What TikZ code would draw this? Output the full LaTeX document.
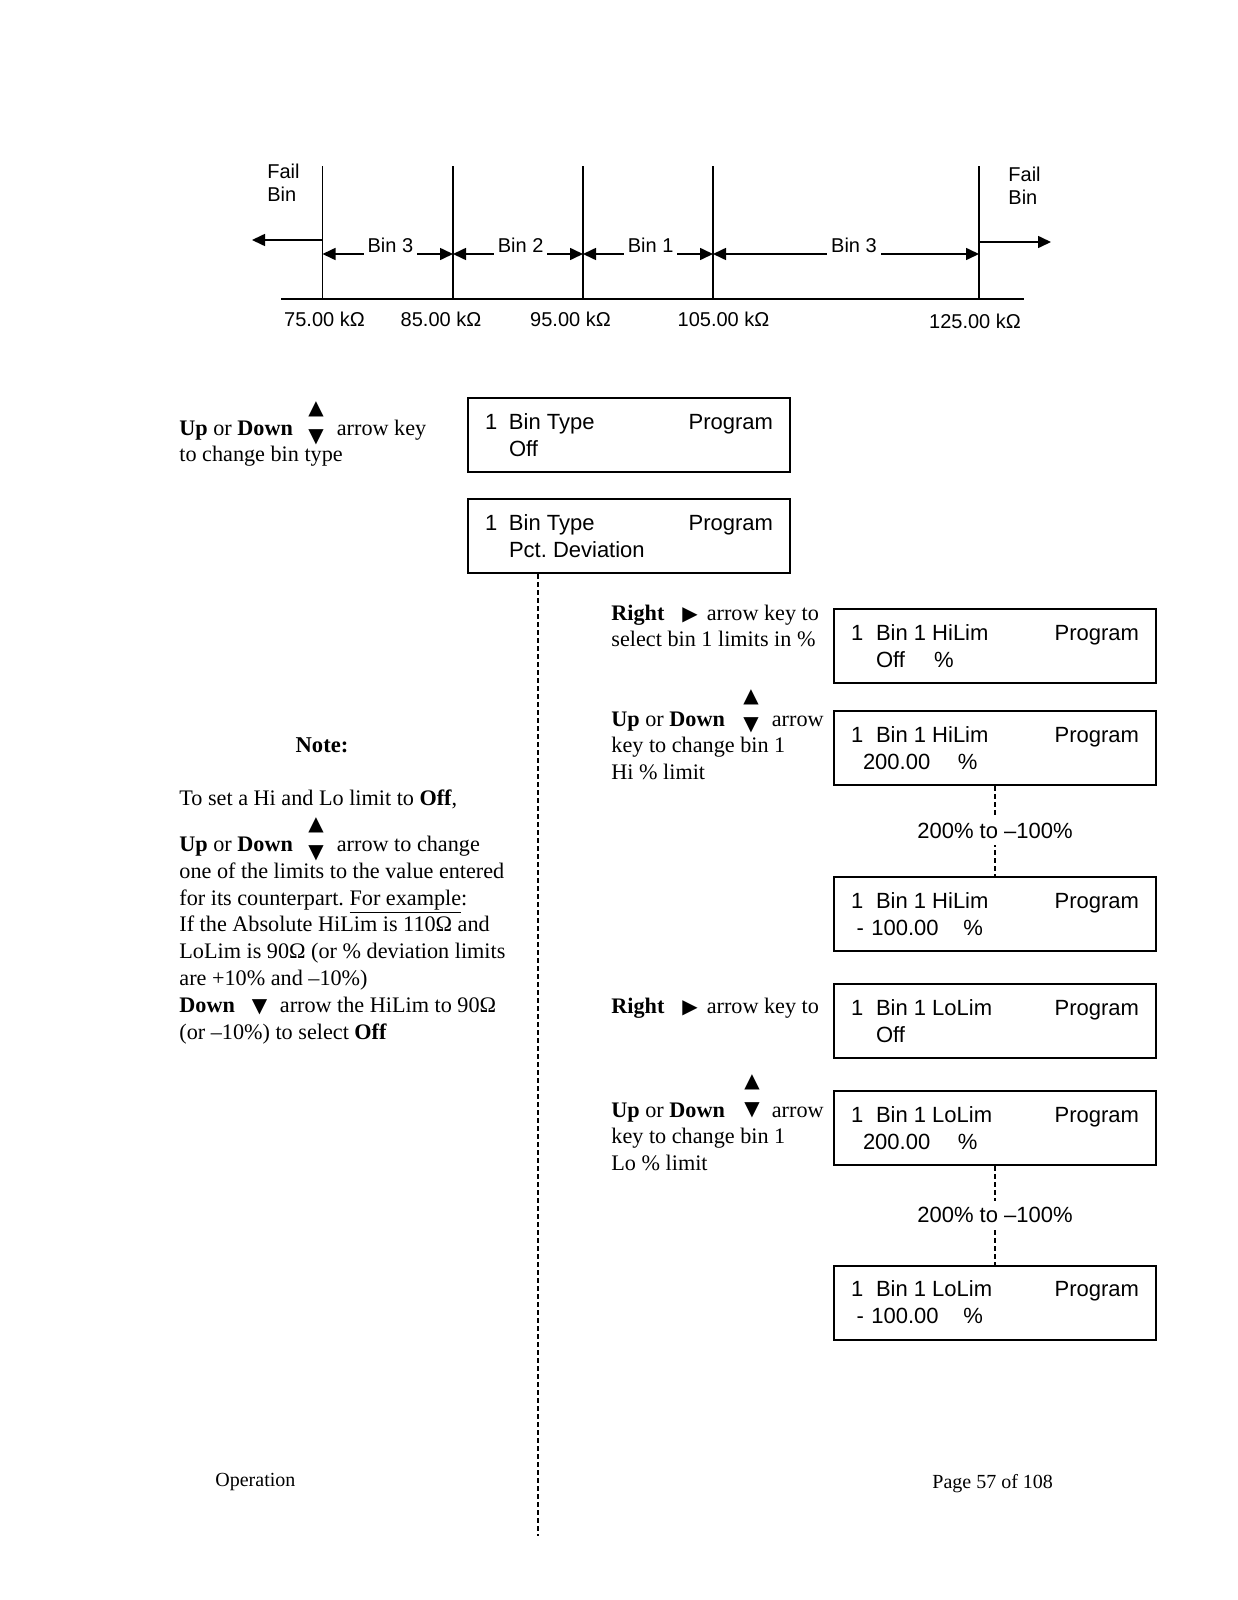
\documentclass[tikz,border=0pt]{standalone}
\usepackage{fontspec}
\setmainfont{Liberation Serif}
\newfontfamily\arial{Liberation Sans}
\newfontfamily\glyphs{DejaVu Sans}
\newcommand{\keysym}[1]{{\glyphs\fontsize{10}{10}\selectfont#1}}
\usetikzlibrary{positioning,arrows.meta}

\begin{document}
\frenchspacing
\begin{tikzpicture}[x=0.5pt,y=-0.5pt,>={Triangle[length=6.5pt,width=6pt]},
  binline/.style={line width=0.8pt},
  binarrow/.style={<->,line width=0.8pt},
  binlbl/.style={pos=#1,anchor=base,yshift=1pt,fill=white,inner sep=2pt,
    font=\arial\fontsize{10}{11.3}\selectfont},
  binlbl/.default=0.5,
  lbl/.style={inner sep=0pt,font=\arial\fontsize{10}{11.3}\selectfont},
  lcd/.style={draw,line width=1pt,text width=144pt,inner xsep=8.5pt,
    minimum height=37pt,align=flush left,font=\arial\fontsize{11}{13.4}\selectfont},
  txt/.style={inner sep=0pt,align=flush left,anchor=base west,
    font=\fontsize{11.1}{13.4}\selectfont},
  keys/.style={inner sep=0pt,align=center,font=\glyphs\fontsize{10}{14}\selectfont},
  guide/.style={line width=0.6pt,dash pattern=on 2.5pt off 1.5pt},
  spanlbl/.style={midway,fill=white,inner sep=3pt,font=\arial\fontsize{11}{13}\selectfont}]
\useasboundingbox (0,0) rectangle (1237,1600);

% bin scale
\foreach \x/\n in {322.5/m75,453/m85,583/m95,713/m105,979/m125}{
  \coordinate (\n) at (\x,254);
  \draw[binline] (\x,166) -- (\x,299);
}
\coordinate (axisL) at (281,299);
\coordinate (axisR) at (1024,299);
\draw[binline] (axisL) -- (axisR);
\coordinate (outL) at (252,240);
\coordinate (outR) at (1051,242);
\draw[binarrow,<-] (outL) -- (m75 |- outL);
\draw[binarrow,->] (m125 |- outR) -- (outR);
\draw[binarrow] (m75) -- (m85) node[binlbl=0.52] {Bin 3};
\draw[binarrow] (m85) -- (m95) node[binlbl=0.52] {Bin 2};
\draw[binarrow] (m95) -- (m105) node[binlbl=0.52] {Bin 1};
\draw[binarrow] (m105) -- (m125) node[binlbl=0.53] {Bin 3};
\node[lbl,anchor=north west,align=left] (failL) at (267,164) {Fail\\Bin};
\node[lbl,anchor=north west,align=left] (failR) at (1008,167) {Fail\\Bin};
\node[lbl] (v75) at (324.5,319.5) {75.00 kΩ};
\node[lbl] (v85) at (441,319.5) {85.00 kΩ};
\node[lbl] (v95) at (570.5,319.5) {95.00 kΩ};
\node[lbl] (v105) at (723.5,319.5) {105.00 kΩ};
\node[lbl] (v125) at (975,321) {125.00 kΩ};

% bin type
\node[txt,text width=135pt] (typetip) at (179,435)
  {\textbf{Up} or \textbf{Down}\hspace{22pt}arrow key\\to change bin type};
\node[keys] (typekey) at (316,423) {▲\\▼};
\node[lcd] (bt1) at (629,435) {\makebox[12pt][l]{1}Bin Type\hfill Program\\\hspace*{12pt}Off};
\node[lcd] (bt2) at (629,536) {\makebox[12pt][l]{1}Bin Type\hfill Program\\\hspace*{12pt}Pct. Deviation};
\coordinate (tail) at (538,1536);
\draw[guide] (bt2.south -| tail) -- (tail);

% note
\node[anchor=base,inner sep=0pt,font=\bfseries\fontsize{11.3}{13.4}\selectfont] (notehead) at (322,752.5) {Note:};
\node[txt] (note1) at (179,805.5) {To set a Hi and Lo limit to \textbf{Off},};
\node[txt,text width=190pt] (note2) at (179,851.5)
  {\textbf{Up} or \textbf{Down}\hspace{22pt}arrow to change\\
   one of the limits to the value entered\\
   for its counterpart. \underline{For example}:\\
   If the Absolute HiLim is 110Ω and\\
   LoLim is 90Ω (or \% deviation limits\\
   are +10\% and –10\%)\\
   \textbf{Down}\hspace{8.5pt}\keysym{▼}\hspace{6.3pt}arrow the HiLim to 90Ω\\
   (or –10\%) to select \textbf{Off}};
\node[keys] (notekey) at (316,839) {▲\\▼};

% hi limit
\node[txt,text width=125pt] (hitip1) at (611,620)
  {\textbf{Right}\hspace{9pt}\keysym{▶}\hspace{4.5pt}arrow key to\\select bin 1 limits in \%};
\node[txt,text width=125pt] (hitip2) at (611,726)
  {\textbf{Up} or \textbf{Down}\hspace{23.5pt}arrow\\key to change bin 1\\Hi \% limit};
\node[keys] (hikey) at (751,711) {▲\\▼};
\node[lcd] (hi1) at (995,646) {\makebox[12.5pt][l]{1}Bin 1 HiLim\hfill Program\\\hspace*{12.5pt}\makebox[29pt][l]{Off}\%};
\node[lcd] (hi2) at (995,748) {\makebox[12.5pt][l]{1}Bin 1 HiLim\hfill Program\\\hspace*{6pt}\makebox[47.5pt][l]{200.00}\%};
\node[lcd] (hi3) at (995,914) {\makebox[12.5pt][l]{1}Bin 1 HiLim\hfill Program\\\hspace*{2.8pt}\makebox[7.4pt][l]{-}\makebox[46pt][l]{100.00}\%};
\draw[guide] (hi2.south) -- (hi3.north) node[spanlbl] {200\% to –100\%};

% lo limit
\node[txt,text width=125pt] (lotip1) at (611,1013.5)
  {\textbf{Right}\hspace{9pt}\keysym{▶}\hspace{4.5pt}arrow key to};
\node[txt,text width=125pt] (lotip2) at (611,1117)
  {\textbf{Up} or \textbf{Down}\hspace{23.5pt}arrow\\key to change bin 1\\Lo \% limit};
\node[keys] (lokey) at (752,1096) {▲\\▼};
\node[lcd] (lo1) at (995,1021) {\makebox[12.5pt][l]{1}Bin 1 LoLim\hfill Program\\\hspace*{12.5pt}Off};
\node[lcd] (lo2) at (995,1128) {\makebox[12.5pt][l]{1}Bin 1 LoLim\hfill Program\\\hspace*{6pt}\makebox[47.5pt][l]{200.00}\%};
\node[lcd] (lo3) at (995,1302.5) {\makebox[12.5pt][l]{1}Bin 1 LoLim\hfill Program\\\hspace*{2.8pt}\makebox[7.4pt][l]{-}\makebox[46pt][l]{100.00}\%};
\draw[guide] (lo2.south) -- (lo3.north) node[spanlbl] {200\% to –100\%};

% footer
\node[txt,font=\fontsize{10}{12}\selectfont] (footL) at (215,1486) {Operation};
\node[txt,font=\fontsize{10}{12}\selectfont] (footR) at (932,1488) {Page 57 of 108};
\end{tikzpicture}
\end{document}
